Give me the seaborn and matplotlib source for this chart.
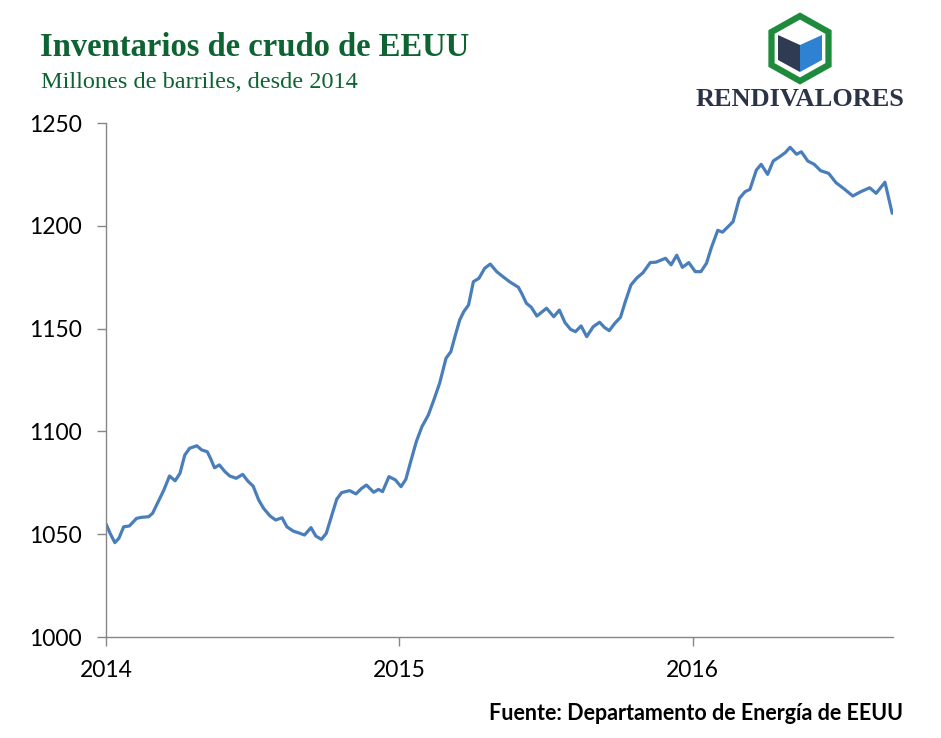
import matplotlib
matplotlib.use("Agg")
import matplotlib.pyplot as plt
import matplotlib.dates as mdates
from matplotlib.patches import Polygon
import seaborn as sns
import pandas as pd

# ---- data ----
dates = [
    "2014-01-01", "2014-01-06", "2014-01-12", "2014-01-17", "2014-01-23", "2014-01-30",
    "2014-02-08", "2014-02-14", "2014-02-23", "2014-02-28", "2014-03-07", "2014-03-14",
    "2014-03-21", "2014-03-28", "2014-04-03", "2014-04-09", "2014-04-15", "2014-04-24",
    "2014-04-30", "2014-05-07", "2014-05-11", "2014-05-16", "2014-05-22", "2014-05-29",
    "2014-06-04", "2014-06-12", "2014-06-20", "2014-06-27", "2014-07-03", "2014-07-10",
    "2014-07-16", "2014-07-24", "2014-07-31", "2014-08-08", "2014-08-14", "2014-08-22",
    "2014-08-29", "2014-09-05", "2014-09-13", "2014-09-19", "2014-09-26", "2014-10-02",
    "2014-10-09", "2014-10-15", "2014-10-21", "2014-10-31", "2014-11-08", "2014-11-15",
    "2014-11-21", "2014-11-30", "2014-12-06", "2014-12-11", "2014-12-19", "2014-12-27",
    "2015-01-03", "2015-01-09", "2015-01-15", "2015-01-22", "2015-01-29", "2015-02-06",
    "2015-02-13", "2015-02-20", "2015-02-28", "2015-03-06", "2015-03-11", "2015-03-17",
    "2015-03-22", "2015-03-28", "2015-04-03", "2015-04-10", "2015-04-17", "2015-04-24",
    "2015-05-02", "2015-05-10", "2015-05-18", "2015-05-29", "2015-06-02", "2015-06-08",
    "2015-06-14", "2015-06-21", "2015-07-03", "2015-07-12", "2015-07-19", "2015-07-26",
    "2015-08-02", "2015-08-08", "2015-08-15", "2015-08-22", "2015-08-30", "2015-09-07",
    "2015-09-13", "2015-09-19", "2015-09-26", "2015-10-03", "2015-10-09", "2015-10-16",
    "2015-10-23", "2015-10-31", "2015-11-09", "2015-11-16", "2015-11-28", "2015-12-05",
    "2015-12-12", "2015-12-19", "2015-12-27",
    "2016-01-04", "2016-01-11", "2016-01-18", "2016-01-24", "2016-02-01", "2016-02-07",
    "2016-02-20", "2016-02-28", "2016-03-06", "2016-03-12", "2016-03-20", "2016-03-26",
    "2016-04-03", "2016-04-10", "2016-04-18", "2016-04-25", "2016-05-01", "2016-05-09",
    "2016-05-15", "2016-05-23", "2016-05-31", "2016-06-08", "2016-06-18", "2016-06-27",
    "2016-07-08", "2016-07-18", "2016-07-28", "2016-08-08", "2016-08-16", "2016-08-27",
    "2016-09-05",
]
inventarios = [
    1055.0, 1050.5, 1045.9, 1048.0, 1053.6, 1054.0,
    1057.7, 1058.2, 1058.5, 1060.2, 1065.8, 1071.5,
    1078.3, 1076.0, 1079.6, 1088.5, 1091.8, 1093.0,
    1091.0, 1090.1, 1086.9, 1082.3, 1083.7, 1080.4,
    1078.3, 1077.2, 1079.1, 1075.6, 1073.4, 1066.6,
    1062.6, 1058.9, 1056.9, 1058.0, 1053.6, 1051.5,
    1050.6, 1049.6, 1053.2, 1049.1, 1047.5, 1050.4,
    1059.3, 1067.0, 1070.2, 1071.2, 1069.6, 1072.3,
    1073.9, 1070.4, 1071.8, 1070.7, 1078.0, 1076.4,
    1073.1, 1076.7, 1085.3, 1095.0, 1102.3, 1108.0,
    1115.5, 1123.4, 1135.6, 1138.8, 1146.0, 1154.2,
    1158.2, 1161.5, 1172.8, 1174.5, 1179.3, 1181.4,
    1177.7, 1175.2, 1172.8, 1170.1, 1167.2, 1162.3,
    1160.4, 1156.1, 1159.9, 1155.8, 1159.0, 1152.9,
    1149.6, 1148.5, 1151.3, 1146.1, 1150.9, 1153.1,
    1150.6, 1149.0, 1152.6, 1155.5, 1163.1, 1171.2,
    1174.5, 1177.2, 1182.1, 1182.3, 1184.2, 1181.0,
    1185.7, 1179.8, 1182.1,
    1177.7, 1177.7, 1181.8, 1189.3, 1197.8, 1196.9,
    1202.0, 1213.4, 1216.6, 1217.7, 1227.1, 1229.9,
    1225.0, 1231.5, 1233.6, 1235.6, 1238.2, 1234.8,
    1236.0, 1231.5, 1229.9, 1226.8, 1225.5, 1221.0,
    1217.7, 1214.5, 1216.6, 1218.5, 1215.8, 1221.2,
    1206.1,
]
y_ticks = [1000, 1050, 1100, 1150, 1200, 1250]
x_ticks = ["2014-01-01", "2015-01-01", "2016-01-01"]

titulo = "Inventarios de crudo de EEUU"
subtitulo = "Millones de barriles, desde 2014"
fuente = "Fuente: Departamento de Energía de EEUU"
marca = "RENDIVALORES"

df = pd.DataFrame({"fecha": pd.to_datetime(dates), "inventarios": inventarios})

# ---- style ----
sns.set_theme(style="white")
plt.rcParams["font.family"] = ["Lato", "DejaVu Sans"]

W, H = 941, 738
fig = plt.figure(figsize=(W / 100, H / 100), dpi=100)
ax = fig.add_axes([106 / W, 1 - 637 / H, (893 - 106) / W, (637 - 123) / H])

sns.lineplot(data=df, x="fecha", y="inventarios", ax=ax,
             color="#4a7ebb", linewidth=2.3, solid_joinstyle="round",
             solid_capstyle="round")

ax.set_ylim(1000, 1250)
ax.set_xlim(pd.Timestamp("2014-01-01"), pd.Timestamp("2016-09-06"))
ax.set_yticks(y_ticks)
ax.set_xticks(pd.to_datetime(x_ticks))
ax.xaxis.set_major_formatter(mdates.DateFormatter("%Y"))
ax.set_xlabel("")
ax.set_ylabel("")

for s in ["top", "right"]:
    ax.spines[s].set_visible(False)
for s in ["left", "bottom"]:
    ax.spines[s].set_color("#868686")
    ax.spines[s].set_linewidth(1.0)

ax.tick_params(axis="both", which="major", direction="out", length=6.5,
               width=1.0, color="#868686", labelsize=16.5, labelcolor="black",
               pad=11, left=True, bottom=True)
ax.tick_params(axis="x", pad=10)
ax.grid(False)

# ---- titles ----
green = "#0e6333"
fig.text(40 / W, 1 - 48 / H, titulo, ha="left", va="center",
         family="Liberation Serif", fontweight="bold", fontsize=23.5, color=green)
fig.text(41 / W, 1 - 83 / H, subtitulo, ha="left", va="center",
         family="Liberation Serif", fontsize=17.5, color=green)

# source
fig.text(903 / W, 1 - 713 / H, fuente, ha="right", va="center",
         family=["Lato", "DejaVu Sans"], fontweight="bold", fontsize=15.5,
         color="black")

# ---- logo ----
def px(pts):
    return [(x / W, 1 - y / H) for x, y in pts]

hex_outer = [(800, 16), (828.5, 32), (828.5, 65), (800, 81), (771.5, 65), (771.5, 32)]
fig.patches.append(Polygon(px(hex_outer), closed=True, transform=fig.transFigure,
                           facecolor="white", edgecolor="#1e8b3c", linewidth=4.5,
                           joinstyle="miter"))
left_face = [(778, 35), (800, 45), (800, 72), (778, 60)]
right_face = [(800, 45), (822, 35), (822, 60), (800, 72)]
fig.patches.append(Polygon(px(left_face), closed=True, transform=fig.transFigure,
                           facecolor="#2f3b52", edgecolor="none"))
fig.patches.append(Polygon(px(right_face), closed=True, transform=fig.transFigure,
                           facecolor="#2f82d2", edgecolor="none"))
fig.text(800 / W, 1 - 99 / H, marca, ha="center", va="center",
         family="Liberation Serif", fontweight="bold", fontsize=19,
         color="#2b3447")

fig.savefig("out.png", dpi=100, facecolor="white")
